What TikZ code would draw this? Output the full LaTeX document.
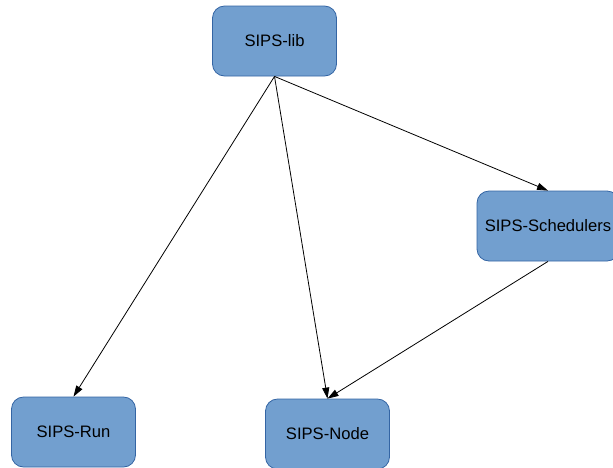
\documentclass[tikz,border=0pt]{standalone}
\usepackage{fontspec}
\setmainfont{Liberation Sans}
\usetikzlibrary{arrows.meta}
\definecolor{boxfill}{HTML}{729FCF}
\definecolor{boxline}{HTML}{3465A4}
\begin{document}
\begin{tikzpicture}[x=1pt,y=-1pt,
  module/.style={draw=boxline, fill=boxfill, line width=0.8pt, rounded corners=12pt,
    minimum width=124pt, minimum height=70pt, inner sep=0pt,
    font=\fontsize{16.6}{19}\selectfont},
  dep/.style={-{Triangle[length=11pt,width=7pt]}, line width=0.8pt, black}]
  \useasboundingbox (0,0) rectangle (613,467);
  \clip (0,0) rectangle (613,467);
  \node[module] (lib) at (274.5,41) {SIPS-lib};
  \node[module, minimum width=142pt] (sched) at (548,226) {SIPS-Schedulers};
  \node[module] (run) at (73.5,432) {SIPS-Run};
  \node[module] (nd) at (327.5,434) {SIPS-Node};
  \draw[dep] (lib.south) -- (run.north);
  \draw[dep] (lib.south) -- (nd.north);
  \draw[dep] (lib.south) -- (sched.north);
  \draw[dep] (sched.south) -- (nd.north);
\end{tikzpicture}
\end{document}
